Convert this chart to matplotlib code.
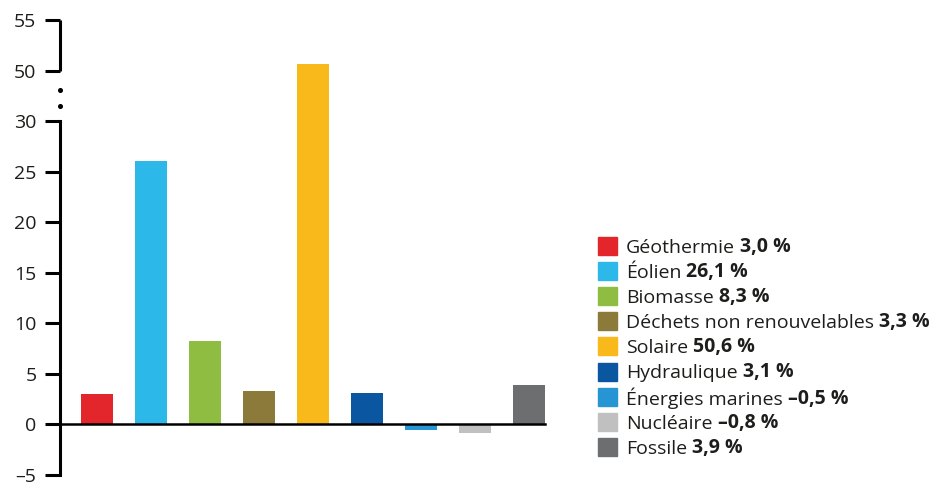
import numpy as np
import matplotlib
matplotlib.use("Agg")
import matplotlib.pyplot as plt
from matplotlib.patches import Rectangle
import matplotlib.transforms as mtransforms

plt.rcParams['font.family'] = ['Open Sans', 'DejaVu Sans']

# data
sources = ['Géothermie', 'Éolien', 'Biomasse', 'Déchets non renouvelables', 'Solaire',
           'Hydraulique', 'Énergies marines', 'Nucléaire', 'Fossile']
values = [3.0, 26.1, 8.3, 3.3, 50.6, 3.1, -0.5, -0.8, 3.9]
value_labels = ['3,0 %', '26,1 %', '8,3 %', '3,3 %', '50,6 %', '3,1 %', '–0,5 %', '–0,8 %', '3,9 %']
colors = ['#e3262b', '#2cb9e9', '#8fbd41', '#8b7a39', '#f9b91a',
          '#0b56a0', '#2596d3', '#c0c0c0', '#6d6e70']
yticks = [-5, 0, 5, 10, 15, 20, 25, 30, 50, 55]
text_color = '#1d1d1b'


# broken axis: 30..50 compressed into one step
def forward(y):
    y = np.asarray(y, dtype=float)
    return np.where(y <= 30, y, np.where(y <= 50, 30 + (y - 30) * 0.25, 35 + (y - 50)))


def inverse(y):
    y = np.asarray(y, dtype=float)
    return np.where(y <= 30, y, np.where(y <= 35, 30 + (y - 30) * 4, 50 + (y - 35)))


fig = plt.figure(figsize=(9.39, 4.82), dpi=100)
ax = fig.add_axes([60 / 939, 7 / 482, 485 / 939, 455 / 482])
ax.set_yscale('function', functions=(forward, inverse))

x = np.arange(len(values))
ax.bar(x, values, width=32 / 54, color=colors, zorder=2)

ax.set_xlim(-37 / 54, 8 + 16 / 54)
ax.set_ylim(-5, 55)

# zero line, starting under the tick marks
ax.axhline(0, xmin=-11 / 485, xmax=1, color='black', lw=1.8, clip_on=False, zorder=3)

for s in ['top', 'right', 'bottom']:
    ax.spines[s].set_visible(False)
ax.spines['left'].set_linewidth(2.2)
ax.spines['left'].set_bounds(-5, 30)
trans = mtransforms.blended_transform_factory(ax.transAxes, ax.transData)
ax.plot([0, 0], [50, 55], color='black', lw=2.2, transform=trans, clip_on=False,
        solid_capstyle='butt')
ax.plot([0, 0], [42.3, 36.0], linestyle='none', marker='o', ms=2.6, color='black',
        transform=trans, clip_on=False)

ax.set_yticks(yticks)
ax.set_yticklabels([str(t).replace('-', '–') for t in yticks])
ax.yaxis.set_minor_locator(matplotlib.ticker.NullLocator())
ax.tick_params(axis='y', length=11, width=2.2, labelsize=14, colors='black',
               labelcolor=text_color, pad=6)
ax.set_xticks([])

# legend drawn by hand (name regular + value bold)
row0 = 246
row_step = 25.1
for i, (name, lab, c) in enumerate(zip(sources, value_labels, colors)):
    yc = 482 - (row0 + i * row_step)
    fig.patches.append(Rectangle((598 / 939, (yc - 9) / 482), 19 / 939, 18 / 482,
                                 transform=fig.transFigure, color=c))
    t1 = fig.text(626 / 939, yc / 482, name, fontsize=14, color=text_color,
                  va='center_baseline', ha='left')
    ax.annotate(lab, xy=(1, 0), xycoords=t1, xytext=(5, 0), textcoords='offset pixels',
                fontsize=14, fontweight='bold', color=text_color, va='bottom', ha='left',
                annotation_clip=False)

fig.savefig('out.png', dpi=100)
